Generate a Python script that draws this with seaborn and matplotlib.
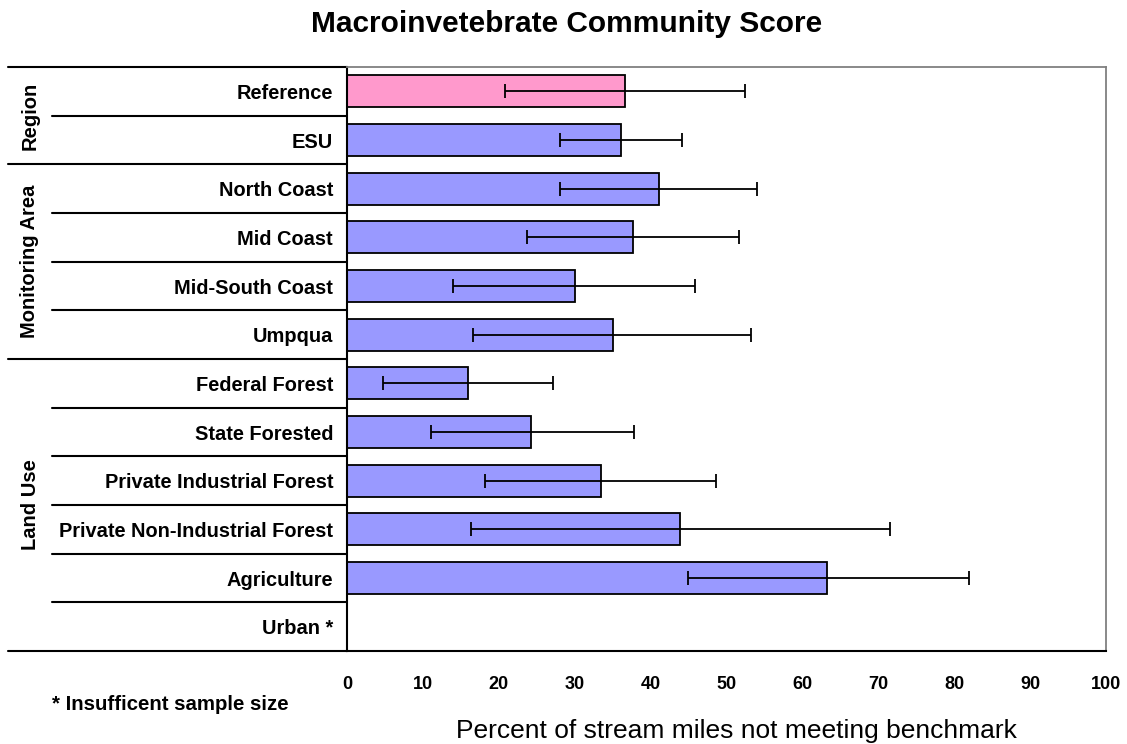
import numpy as np
import pandas as pd
import matplotlib
matplotlib.use("Agg")
import matplotlib.pyplot as plt
import matplotlib.transforms as mtransforms
import seaborn as sns

categories = ['Reference', 'ESU', 'North Coast', 'Mid Coast', 'Mid-South Coast', 'Umpqua',
              'Federal Forest', 'State Forested', 'Private Industrial Forest',
              'Private Non-Industrial Forest', 'Agriculture', 'Urban *']
values = [36.6, 36.1, 41.1, 37.7, 30.0, 35.0, 15.9, 24.3, 33.4, 43.9, 63.3, np.nan]
ci_low = [20.8, 28.1, 28.1, 23.7, 14.0, 16.6, 4.8, 11.1, 18.2, 16.4, 44.9, np.nan]
ci_high = [52.4, 44.2, 54.0, 51.6, 45.8, 53.2, 27.2, 37.8, 48.6, 71.6, 82.0, np.nan]
bar_colors = ['#FF99CC'] + ['#9999FF'] * 11

groups = ['Region', 'Monitoring Area', 'Land Use']
group_rows = [(0, 1), (2, 5), (6, 11)]

sns.set_style("white")
plt.rcParams['font.family'] = ['Liberation Sans', 'DejaVu Sans']
plt.rcParams['text.color'] = 'black'
plt.rcParams['xtick.color'] = 'black'
plt.rcParams['ytick.color'] = 'black'

df = pd.DataFrame({'category': categories, 'value': values})

fig = plt.figure(figsize=(11.27, 7.44), dpi=100)
ax = fig.add_axes([347 / 1127, 1 - 651 / 744, (1106 - 347) / 1127, (651 - 67) / 744])

sns.barplot(data=df, x='value', y='category', hue='category', order=categories,
            hue_order=categories, palette=bar_colors, legend=False, width=0.66,
            saturation=1, edgecolor='black', linewidth=1.3, ax=ax)

# asymmetric confidence bars
vals = np.array(values)
lo = vals - np.array(ci_low)
hi = np.array(ci_high) - vals
ax.errorbar(vals, np.arange(len(categories)), xerr=[lo, hi], fmt='none',
            ecolor='black', elinewidth=1.3, capsize=5, capthick=1.3, zorder=5)

ax.set_xlim(0, 100)
ax.set_ylim(len(categories) - 0.5, -0.5)
ax.set_xticks(range(0, 101, 10))
ax.set_xlabel('')
ax.set_ylabel('')

for s in ['top', 'right']:
    ax.spines[s].set_color('#808080')
    ax.spines[s].set_linewidth(1.3)
for s in ['left', 'bottom']:
    ax.spines[s].set_color('black')
    ax.spines[s].set_linewidth(1.5)

ax.tick_params(axis='x', direction='out', length=5, width=1.3, pad=13,
               labelsize=13, labelcolor='black')
for lab in ax.get_xticklabels():
    lab.set_fontweight('bold')

ax.tick_params(axis='y', which='major', length=0, pad=10, labelsize=14.4, labelcolor='black')
for lab in ax.get_yticklabels():
    lab.set_fontweight('bold')
ax.set_yticks(np.arange(len(categories) + 1) - 0.5, minor=True)
ax.tick_params(axis='y', which='minor', direction='out', length=5, width=1.3)

# left-hand table lines
tr = mtransforms.blended_transform_factory(fig.transFigure, ax.transData)
group_edges = [-0.5] + [r[1] + 0.5 for r in group_rows]
for i in range(len(categories) + 1):
    yb = i - 0.5
    x0 = 8 / 1127 if yb in group_edges else 52 / 1127
    ax.plot([x0, 347 / 1127], [yb, yb], color='black', lw=1.5,
            transform=tr, clip_on=False)

for name, (a, b) in zip(groups, group_rows):
    ax.text(30 / 1127, (a + b) / 2, name, transform=tr, rotation=90,
            ha='center', va='center', fontsize=14.5, fontweight='bold')

fig.text(567 / 1127, 1 - 24 / 744, 'Macroinvetebrate Community Score',
         ha='center', va='center', fontsize=21.5, fontweight='bold')
fig.text(736 / 1127, 1 - 731 / 744, 'Percent of stream miles not meeting benchmark',
         ha='center', va='center', fontsize=19)
fig.text(52 / 1127, 1 - 705 / 744, '* Insufficent sample size',
         ha='left', va='center', fontsize=14.7, fontweight='bold')

fig.savefig('out.png', dpi=100)
